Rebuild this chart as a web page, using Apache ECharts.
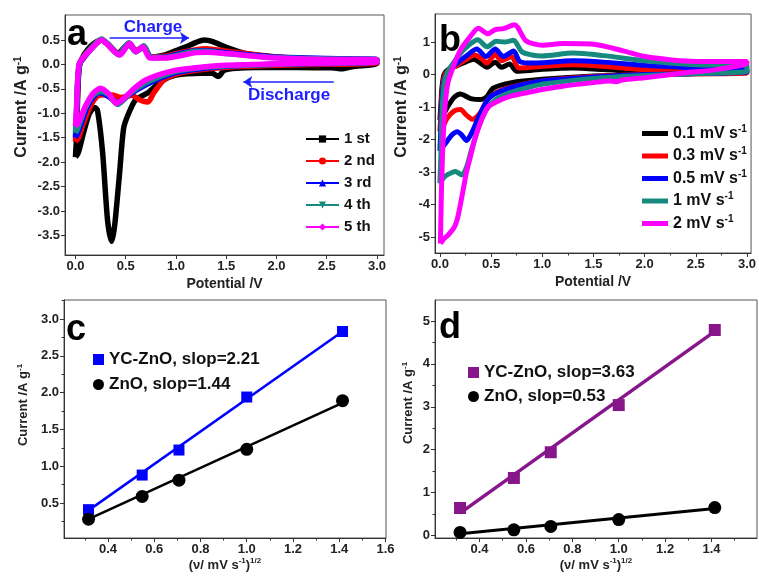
<!DOCTYPE html>
<html>
<head>
<meta charset="utf-8">
<script src="https://cdn.jsdelivr.net/npm/echarts@6/dist/echarts.min.js"></script>
<style>
  html, body { margin: 0; padding: 0; background: #fff; }
  #chart { width: 759px; height: 578px; }
</style>
</head>
<body>
<div id="chart"></div>
<script>
// ---- panel a : CV curves, first five cycles ----
var aNames = ['1 st', '2 nd', '3 rd', '4 th', '5 th'];
var a1Up = [[0,-1.9],[0.01,-1.5],[0.02,-0.8],[0.035,-0.1],[0.06,0.1],[0.12,0.3],[0.2,0.45],[0.26,0.5],[0.32,0.42],[0.42,0.22],[0.5,0.38],[0.54,0.42],[0.6,0.28],[0.68,0.35],[0.75,0.15],[0.9,0.2],[1.0,0.28],[1.1,0.36],[1.2,0.45],[1.28,0.5],[1.36,0.47],[1.5,0.35],[1.7,0.22],[2.0,0.15],[2.5,0.1],[3.0,0.08]];
var a1Down = [[3.0,0.02],[2.75,-0.05],[2.65,-0.09],[2.55,-0.07],[2.4,-0.07],[2.0,-0.06],[1.6,-0.08],[1.48,-0.12],[1.42,-0.25],[1.36,-0.18],[1.25,-0.18],[1.0,-0.22],[0.85,-0.35],[0.72,-0.58],[0.6,-0.72],[0.53,-1.0],[0.48,-1.3],[0.44,-2.2],[0.39,-3.3],[0.36,-3.62],[0.32,-3.2],[0.27,-1.8],[0.22,-0.95],[0.19,-0.88],[0.14,-1.0],[0.08,-1.4],[0.03,-1.8],[0,-1.9]];
var a2Up = [[0,-1.58],[0.01,-1.2],[0.02,-0.6],[0.035,-0.05],[0.07,0.12],[0.15,0.32],[0.26,0.5],[0.34,0.38],[0.43,0.22],[0.53,0.42],[0.6,0.28],[0.68,0.36],[0.75,0.15],[0.9,0.17],[1.0,0.22],[1.2,0.3],[1.3,0.32],[1.5,0.27],[2.0,0.15],[2.5,0.11],[3.0,0.08]];
var a2Down = [[3.0,0.03],[2.5,0],[2.0,-0.02],[1.5,-0.06],[1.2,-0.12],[1.0,-0.2],[0.88,-0.32],[0.78,-0.58],[0.72,-0.77],[0.64,-0.73],[0.56,-0.63],[0.45,-0.68],[0.38,-0.63],[0.3,-0.62],[0.22,-0.65],[0.15,-0.85],[0.08,-1.2],[0.03,-1.5],[0,-1.58]];
var a3Up = [[0,-1.5],[0.01,-1.1],[0.02,-0.5],[0.04,0],[0.07,0.1],[0.15,0.3],[0.26,0.5],[0.34,0.38],[0.43,0.2],[0.53,0.42],[0.6,0.26],[0.68,0.36],[0.75,0.14],[0.9,0.15],[1.0,0.2],[1.2,0.28],[1.3,0.28],[1.5,0.24],[2.0,0.15],[2.5,0.12],[3.0,0.1]];
var a3Down = [[3.0,0.05],[2.5,0.02],[2.0,0],[1.5,-0.04],[1.2,-0.1],[1.0,-0.17],[0.85,-0.28],[0.7,-0.42],[0.55,-0.6],[0.42,-0.78],[0.33,-0.66],[0.25,-0.58],[0.2,-0.62],[0.12,-0.85],[0.06,-1.2],[0.02,-1.42],[0,-1.5]];
var a4Up = [[0,-1.4],[0.01,-1.0],[0.02,-0.4],[0.04,0.02],[0.07,0.12],[0.15,0.32],[0.26,0.52],[0.34,0.38],[0.43,0.2],[0.53,0.44],[0.6,0.26],[0.68,0.38],[0.75,0.14],[0.9,0.14],[1.0,0.18],[1.2,0.27],[1.3,0.27],[1.5,0.22],[2.0,0.14],[2.5,0.11],[3.0,0.1]];
var a4Down = [[3.0,0.05],[2.5,0.03],[2.0,0],[1.5,-0.03],[1.2,-0.08],[1.0,-0.14],[0.85,-0.24],[0.7,-0.38],[0.55,-0.58],[0.42,-0.82],[0.33,-0.62],[0.25,-0.55],[0.18,-0.62],[0.1,-0.88],[0.05,-1.15],[0.02,-1.32],[0,-1.4]];
var a5Up = [[0,-1.27],[0.01,-0.9],[0.02,-0.4],[0.035,0],[0.07,0.12],[0.15,0.3],[0.26,0.5],[0.34,0.36],[0.44,0.19],[0.54,0.43],[0.6,0.26],[0.67,0.36],[0.74,0.13],[0.9,0.13],[1.0,0.16],[1.2,0.24],[1.3,0.25],[1.5,0.22],[2.0,0.13],[2.5,0.1],[3.0,0.1]];
var a5Down = [[3.0,0.05],[2.5,0.03],[2.0,0.01],[1.5,-0.02],[1.2,-0.07],[1.0,-0.12],[0.85,-0.2],[0.7,-0.32],[0.58,-0.5],[0.48,-0.7],[0.41,-0.8],[0.33,-0.6],[0.25,-0.49],[0.18,-0.58],[0.1,-0.85],[0.05,-1.1],[0.02,-1.22],[0,-1.27]];

// ---- panel b : CV curves at different scan rates ----
var bNames = ['0.1 mV s', '0.3 mV s', '0.5 mV s', '1 mV s', '2 mV s'];
var b1Up = [[0,-1.4],[0.01,-0.9],[0.02,-0.4],[0.04,0],[0.08,0.15],[0.15,0.25],[0.25,0.38],[0.33,0.47],[0.4,0.34],[0.46,0.22],[0.54,0.38],[0.6,0.22],[0.68,0.32],[0.75,0.1],[0.9,0.13],[1.0,0.16],[1.3,0.2],[1.6,0.15],[2.0,0.07],[2.5,0.05],[3.0,0.05]];
var b1Down = [[3.0,0.05],[2.5,0.02],[2.0,0],[1.5,-0.05],[1.0,-0.15],[0.7,-0.25],[0.52,-0.42],[0.46,-0.68],[0.4,-0.77],[0.3,-0.74],[0.2,-0.6],[0.14,-0.7],[0.08,-0.97],[0.04,-1.2],[0,-1.4]];
var b2Up = [[0,-1.75],[0.01,-1.2],[0.02,-0.6],[0.04,-0.1],[0.08,0.12],[0.15,0.25],[0.25,0.45],[0.34,0.6],[0.4,0.5],[0.46,0.35],[0.54,0.62],[0.6,0.42],[0.7,0.55],[0.77,0.2],[0.9,0.22],[1.0,0.25],[1.3,0.3],[1.6,0.25],[2.0,0.15],[2.5,0.1],[3.0,0.1]];
var b2Down = [[3.0,0.05],[2.5,0.02],[2.0,0],[1.5,-0.06],[1.0,-0.2],[0.7,-0.38],[0.55,-0.55],[0.46,-0.8],[0.39,-1.2],[0.32,-1.38],[0.26,-1.25],[0.2,-1.08],[0.14,-1.12],[0.07,-1.35],[0.03,-1.6],[0,-1.75]];
var b3Up = [[0,-2.35],[0.01,-1.6],[0.02,-0.8],[0.04,-0.2],[0.08,0.08],[0.15,0.3],[0.25,0.55],[0.36,0.78],[0.45,0.55],[0.54,0.78],[0.62,0.55],[0.72,0.72],[0.78,0.4],[0.9,0.35],[1.0,0.36],[1.3,0.42],[1.6,0.38],[2.0,0.28],[2.5,0.2],[3.0,0.15]];
var b3Down = [[3.0,0.08],[2.5,0.03],[2.0,0],[1.5,-0.08],[1.0,-0.2],[0.7,-0.4],[0.55,-0.58],[0.47,-0.76],[0.38,-1.3],[0.31,-1.8],[0.26,-2.03],[0.21,-1.85],[0.17,-1.76],[0.12,-1.85],[0.07,-2.05],[0.03,-2.22],[0,-2.37]];
var b4Up = [[0,-3.35],[0.01,-2.4],[0.02,-1.2],[0.04,-0.3],[0.07,0.05],[0.12,0.3],[0.2,0.65],[0.28,0.9],[0.37,1.07],[0.46,0.85],[0.55,1.02],[0.63,1.0],[0.72,1.05],[0.8,0.7],[0.9,0.6],[1.0,0.57],[1.3,0.66],[1.6,0.58],[2.0,0.42],[2.5,0.3],[3.0,0.28]];
var b4Down = [[3.0,0.1],[2.5,0.03],[2.0,-0.03],[1.5,-0.12],[1.0,-0.3],[0.8,-0.45],[0.65,-0.6],[0.54,-0.78],[0.45,-1.1],[0.38,-1.6],[0.31,-2.3],[0.26,-2.85],[0.215,-3.09],[0.15,-2.98],[0.07,-3.09],[0.03,-3.2],[0,-3.35]];
var b5Up = [[0.005,-5.2],[0.012,-4.0],[0.025,-2.5],[0.045,-1.2],[0.075,-0.3],[0.12,0.15],[0.2,0.75],[0.3,1.18],[0.375,1.42],[0.47,1.25],[0.54,1.38],[0.62,1.41],[0.73,1.53],[0.84,1.04],[1.0,0.9],[1.2,0.95],[1.5,0.93],[1.8,0.72],[2.0,0.55],[2.5,0.4],[3.0,0.4]];
var b5Down = [[3.0,0.35],[2.7,0.15],[2.4,0.05],[2.0,-0.1],[1.78,-0.17],[1.72,-0.22],[1.65,-0.2],[1.5,-0.25],[1.2,-0.36],[1.0,-0.46],[0.85,-0.56],[0.7,-0.66],[0.58,-0.8],[0.47,-1.0],[0.4,-1.45],[0.34,-2.0],[0.3,-2.5],[0.26,-3.0],[0.23,-3.5],[0.2,-4.0],[0.17,-4.45],[0.14,-4.7],[0.085,-4.92],[0.04,-5.05],[0.005,-5.2]];

// ---- panels c, d : peak current vs sqrt(scan rate) ----
var sqrtRate = [0.316, 0.548, 0.707, 1.0, 1.414];
var cYc = [0.41, 0.88, 1.22, 1.94, 2.83];
var cZno = [0.28, 0.59, 0.81, 1.23, 1.89];
var cYcFit = [[0.316, 0.40], [1.414, 2.83]];
var cZnoFit = [[0.316, 0.28], [1.414, 1.86]];
var dYc = [0.64, 1.34, 1.94, 3.04, 4.79];
var dZno = [0.07, 0.13, 0.21, 0.37, 0.65];
var dYcFit = [[0.316, 0.52], [1.414, 4.76]];
var dZnoFit = [[0.316, 0.04], [1.414, 0.63]];
var cNames = ['YC-ZnO, slop=2.21', 'ZnO, slop=1.44'];
var dNames = ['YC-ZnO, slop=3.63', 'ZnO, slop=0.53'];

// tick labels
var abXTicks = [0, 0.5, 1.0, 1.5, 2.0, 2.5, 3.0];
var bXMinor = [0.25, 0.75, 1.25, 1.75, 2.25, 2.75];
var aYTicks = [0.5, 0, -0.5, -1.0, -1.5, -2.0, -2.5, -3.0, -3.5];
var bYTicks = [1, 0, -1, -2, -3, -4, -5];
var cdXTicks = [0.4, 0.6, 0.8, 1.0, 1.2, 1.4, 1.6];
var cdXMinor = [0.3, 0.5, 0.7, 0.9, 1.1, 1.3, 1.5];
var cYTicks = [0.5, 1.0, 1.5, 2.0, 2.5, 3.0];
var cYMinor = [0.25, 0.75, 1.25, 1.75, 2.25, 2.75, 3.25];
var dYTicks = [0, 1, 2, 3, 4, 5];
var dYMinor = [0.5, 1.5, 2.5, 3.5, 4.5];

var FONT = 'Arial, "Liberation Sans", sans-serif';
var aColors = ['#000000', '#ff0000', '#0000ff', '#178a80', '#ff00ff'];
var aSymbols = ['rect', 'circle', 'triangle', 'path://M0,0L10,0L5,9Z', 'diamond'];
var bColors = ['#000000', '#ff0000', '#0000ff', '#178a80', '#ff00ff'];
var purple = '#86168a';

var myChart = echarts.init(document.getElementById('chart'));

function mainAxis(grid, pos, min, max, ticks, digits) {
    return {
        type: 'value', gridIndex: grid, position: pos, min: min, max: max,
        axisLine: { show: true, onZero: false, lineStyle: { color: '#333', width: 1 } },
        axisTick: { show: true, length: 4, customValues: ticks, lineStyle: { color: '#333' } },
        axisLabel: {
            customValues: ticks, fontSize: 13, fontWeight: 'bold', color: '#222',
            fontFamily: FONT, margin: 5,
            formatter: function (v) { return Number(v).toFixed(digits); }
        },
        splitLine: { show: false }
    };
}
function minorAxis(grid, pos, min, max, ticks) {
    return {
        type: 'value', gridIndex: grid, position: pos, min: min, max: max,
        axisLine: { show: false, onZero: false },
        axisTick: { show: true, length: 2.5, customValues: ticks, lineStyle: { color: '#333' } },
        axisLabel: { show: false },
        splitLine: { show: false }
    };
}

var xAxes = [
    mainAxis(0, 'bottom', -0.104, 3.07, abXTicks, 1),
    mainAxis(1, 'bottom', -0.048, 3.04, abXTicks, 1),
    mainAxis(2, 'bottom', 0.21, 1.602, cdXTicks, 1),
    mainAxis(3, 'bottom', 0.208, 1.596, cdXTicks, 1),
    minorAxis(1, 'bottom', -0.048, 3.04, bXMinor),
    minorAxis(2, 'bottom', 0.21, 1.602, cdXMinor),
    minorAxis(3, 'bottom', 0.208, 1.596, cdXMinor)
];
xAxes[0].name = 'Potential /V';
xAxes[1].name = 'Potential /V';
[0, 1].forEach(function (i) {
    xAxes[i].nameLocation = 'middle';
    xAxes[i].nameGap = 22;
    xAxes[i].nameTextStyle = { fontSize: 14, fontWeight: 'bold', color: '#222', fontFamily: FONT };
});
[2, 3].forEach(function (i) {
    xAxes[i].name = '{n|(ν/ mV s}{s|-1}{n|)}{s|1/2}';
    xAxes[i].nameLocation = 'middle';
    xAxes[i].nameGap = 19;
    xAxes[i].nameTextStyle = {
        rich: {
            n: { fontSize: 13, fontWeight: 'bold', color: '#222', fontFamily: FONT, lineHeight: 16 },
            s: { fontSize: 8, fontWeight: 'bold', color: '#222', fontFamily: FONT, lineHeight: 8, verticalAlign: 'top' }
        }
    };
});

var yAxes = [
    mainAxis(0, 'left', -3.9, 1.01, aYTicks, 1),
    mainAxis(1, 'left', -5.49, 1.86, bYTicks, 0),
    mainAxis(2, 'left', 0.025, 3.258, cYTicks, 1),
    mainAxis(3, 'left', -0.06, 5.49, dYTicks, 0),
    minorAxis(2, 'left', 0.025, 3.258, cYMinor),
    minorAxis(3, 'left', -0.06, 5.49, dYMinor)
];

var series = [];
var aUp = [a1Up, a2Up, a3Up, a4Up, a5Up];
var aDown = [a1Down, a2Down, a3Down, a4Down, a5Down];
aNames.forEach(function (n, i) {
    series.push({
        name: n, type: 'line', xAxisIndex: 0, yAxisIndex: 0,
        data: aUp[i].concat(aDown[i]), smooth: 0.25,
        showSymbol: false, symbol: aSymbols[i], symbolSize: 8,
        itemStyle: { color: aColors[i] },
        lineStyle: { color: aColors[i], width: 5.5 },
        silent: true
    });
});
// charge / discharge arrows
series[0].markLine = {
    silent: true, symbol: ['none', 'arrow'], symbolSize: 9,
    lineStyle: { color: '#1f1fff', width: 1.5, type: 'solid' },
    label: { show: false },
    data: [
        [{ coord: [0.34, 0.54] }, { coord: [1.13, 0.54] }],
        [{ coord: [2.57, -0.36] }, { coord: [1.67, -0.36] }]
    ]
};

var bUp = [b1Up, b2Up, b3Up, b4Up, b5Up];
var bDown = [b1Down, b2Down, b3Down, b4Down, b5Down];
bNames.forEach(function (n, i) {
    series.push({
        name: n, type: 'line', xAxisIndex: 1, yAxisIndex: 1,
        data: bUp[i].concat(bDown[i]), smooth: 0.25,
        showSymbol: false, symbol: 'none',
        itemStyle: { color: bColors[i] },
        lineStyle: { color: bColors[i], width: 5 },
        silent: true
    });
});

function pairs(xs, ys) {
    return xs.map(function (x, i) { return [x, ys[i]]; });
}
// panel c
series.push({ name: 'fitC1', type: 'line', xAxisIndex: 2, yAxisIndex: 2, data: cYcFit, showSymbol: false, symbol: 'none', lineStyle: { color: '#0000ff', width: 2.5 } });
series.push({ name: 'fitC2', type: 'line', xAxisIndex: 2, yAxisIndex: 2, data: cZnoFit, showSymbol: false, symbol: 'none', lineStyle: { color: '#000', width: 2.5 } });
series.push({ name: cNames[0], type: 'scatter', xAxisIndex: 2, yAxisIndex: 2, data: pairs(sqrtRate, cYc), symbol: 'rect', symbolSize: 11, itemStyle: { color: '#0000ff', opacity: 1 } });
series.push({ name: cNames[1], type: 'scatter', xAxisIndex: 2, yAxisIndex: 2, data: pairs(sqrtRate, cZno), symbol: 'circle', symbolSize: 13, itemStyle: { color: '#000', opacity: 1 } });
// panel d
series.push({ name: 'fitD1', type: 'line', xAxisIndex: 3, yAxisIndex: 3, data: dYcFit, showSymbol: false, symbol: 'none', lineStyle: { color: purple, width: 3.5 } });
series.push({ name: 'fitD2', type: 'line', xAxisIndex: 3, yAxisIndex: 3, data: dZnoFit, showSymbol: false, symbol: 'none', lineStyle: { color: '#000', width: 3 } });
series.push({ name: dNames[0], type: 'scatter', xAxisIndex: 3, yAxisIndex: 3, data: pairs(sqrtRate, dYc), symbol: 'rect', symbolSize: 12, itemStyle: { color: purple, opacity: 1 } });
series.push({ name: dNames[1], type: 'scatter', xAxisIndex: 3, yAxisIndex: 3, data: pairs(sqrtRate, dZno), symbol: 'circle', symbolSize: 13, itemStyle: { color: '#000', opacity: 1 } });

var gridBox = { show: true, borderColor: '#555', borderWidth: 1, backgroundColor: 'transparent' };

function yName(text, x, y, size, sup) {
    return {
        type: 'text', x: x, y: y, rotation: Math.PI / 2, silent: true,
        style: {
            text: '{n|' + text + '}{s|-1}', align: 'center', verticalAlign: 'middle',
            rich: {
                n: { fontSize: size, fontWeight: 'bold', fill: '#222', fontFamily: FONT, lineHeight: size + 2 },
                s: { fontSize: sup, fontWeight: 'bold', fill: '#222', fontFamily: FONT, lineHeight: sup, verticalAlign: 'top' }
            }
        }
    };
}
function letter(t, x, y) {
    return {
        type: 'text', x: x, y: y, silent: true,
        style: { text: t, fontSize: 36, fontWeight: 'bold', fill: '#000', fontFamily: FONT, align: 'left', verticalAlign: 'middle' }
    };
}
function blueText(t, x, y) {
    return {
        type: 'text', x: x, y: y, silent: true,
        style: { text: t, fontSize: 17, fontWeight: 'bold', fill: '#1f1fff', fontFamily: FONT, align: 'center', verticalAlign: 'middle' }
    };
}

const option = {
    backgroundColor: '#fff',
    animation: false,
    textStyle: { fontFamily: FONT },
    grid: [
        Object.assign({ left: 65, top: 15, width: 319, height: 240 }, gridBox),
        Object.assign({ left: 435, top: 14, width: 321, height: 239 }, gridBox),
        Object.assign({ left: 64, top: 300, width: 322, height: 238 }, gridBox),
        Object.assign({ left: 435, top: 300, width: 322, height: 238 }, gridBox)
    ],
    xAxis: xAxes,
    yAxis: yAxes,
    legend: [
        {
            data: aNames, left: 300, top: 126, orient: 'vertical', selectedMode: false,
            itemWidth: 33, itemHeight: 9, itemGap: 6,
            lineStyle: { width: 2 },
            textStyle: { fontSize: 15, fontWeight: 'bold', color: '#111', lineHeight: 16, fontFamily: FONT }
        },
        {
            data: bNames, left: 637, top: 119, orient: 'vertical', selectedMode: false,
            icon: 'rect', itemWidth: 26, itemHeight: 5, itemGap: 5,
            formatter: function (n) { return '{n|' + n + '}{s|-1}'; },
            textStyle: {
                rich: {
                    n: { fontSize: 16, fontWeight: 'bold', color: '#111', fontFamily: FONT, lineHeight: 19 },
                    s: { fontSize: 10, fontWeight: 'bold', color: '#111', fontFamily: FONT, lineHeight: 10, verticalAlign: 'top' }
                }
            }
        },
        {
            data: cNames, left: 88, top: 345, orient: 'vertical', selectedMode: false,
            itemWidth: 11, itemHeight: 11, itemGap: 6,
            textStyle: { fontSize: 17, fontWeight: 'bold', color: '#111', lineHeight: 19, fontFamily: FONT }
        },
        {
            data: dNames, left: 463, top: 358, orient: 'vertical', selectedMode: false,
            itemWidth: 11, itemHeight: 11, itemGap: 5,
            textStyle: { fontSize: 17, fontWeight: 'bold', color: '#111', lineHeight: 19, fontFamily: FONT }
        }
    ],
    graphic: [
        yName('Current /A g', 22, 107, 16, 10),
        yName('Current /A g', 402, 107, 16, 10),
        yName('Current /A g', 23, 405, 13, 8),
        yName('Current /A g', 408, 403, 13, 8),
        letter('a', 67, 35),
        letter('b', 439, 41),
        letter('c', 66, 330),
        letter('d', 439, 328),
        blueText('Charge', 153, 27),
        blueText('Discharge', 289, 95)
    ],
    series: series
};

myChart.setOption(option);
</script>
</body>
</html>
